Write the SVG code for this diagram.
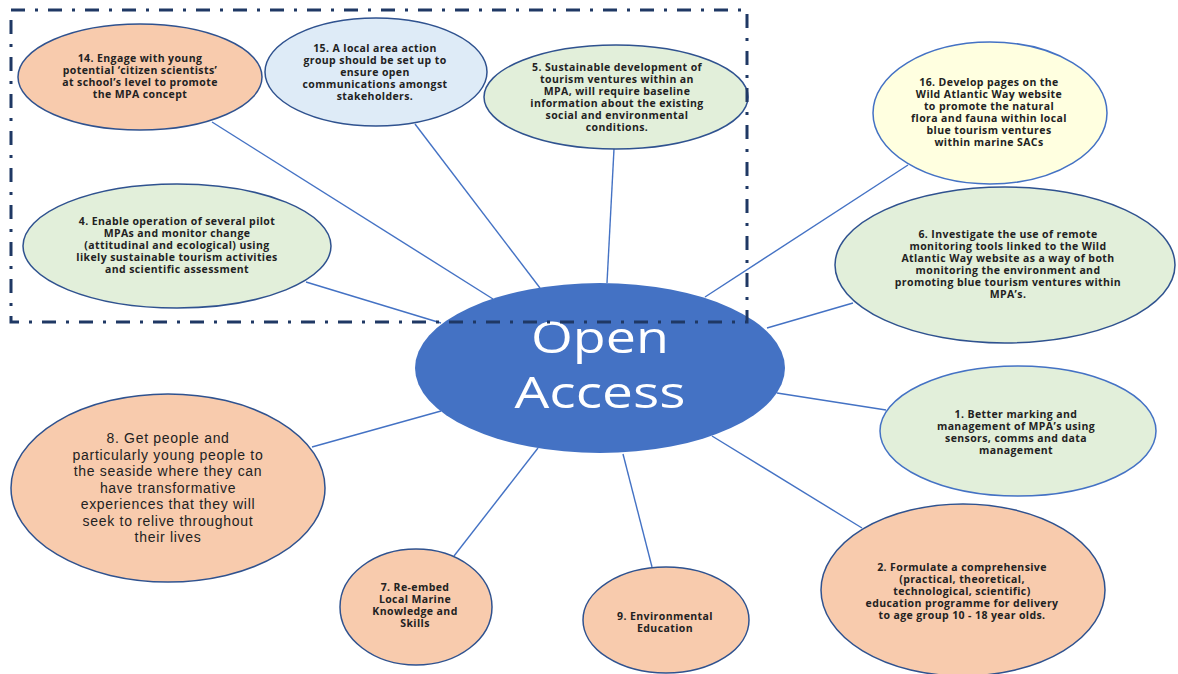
<svg xmlns="http://www.w3.org/2000/svg" width="1178" height="674" viewBox="0 0 1178 674">
<style>
.ln{stroke:#4472C4;stroke-width:1.4;fill:none}
.n{stroke:#2F528F;stroke-width:1.5}
.nl{stroke:#4472C4;stroke-width:1.5}
.or{fill:#F8CBAD}.gr{fill:#E2EFDA}.bl{fill:#DEEBF7}.ye{fill:#FFFFE0}
.t{font-family:"Open Sans","Liberation Sans",sans-serif;font-weight:700;font-size:10.5px;letter-spacing:0.4px;fill:#222;text-anchor:middle}
.t8{font-family:"Liberation Sans",Arial,sans-serif;font-weight:400;font-size:14px;letter-spacing:0.7px;fill:#222;text-anchor:middle}
.c{font-family:"Open Sans","Liberation Sans",sans-serif;font-size:44px;fill:#fff;text-anchor:middle}
.box{fill:none;stroke:#1F3864;stroke-width:3;stroke-dasharray:14 10 3 10}
</style>
<rect width="1178" height="674" fill="#fff"/>
<g id="connectors">
<line class="ln" x1="212" y1="122" x2="493" y2="299"/>
<line class="ln" x1="415" y1="124" x2="540" y2="288"/>
<line class="ln" x1="614" y1="149" x2="607" y2="283"/>
<line class="ln" x1="306" y1="282" x2="441" y2="323"/>
<line class="ln" x1="908" y1="165" x2="705" y2="297"/>
<line class="ln" x1="853" y1="303" x2="767" y2="328"/>
<line class="ln" x1="886" y1="410" x2="777" y2="393"/>
<line class="ln" x1="862" y1="528" x2="712" y2="436"/>
<line class="ln" x1="312" y1="447" x2="441" y2="411"/>
<line class="ln" x1="454" y1="556" x2="538" y2="448"/>
<line class="ln" x1="652" y1="567" x2="623" y2="454"/>
</g>
<g id="center">
<ellipse cx="600" cy="368" rx="185" ry="85" fill="#4472C4"/>
<text class="c" x="600" y="353" textLength="138" lengthAdjust="spacingAndGlyphs">Open</text>
<text class="c" x="600" y="408" textLength="171" lengthAdjust="spacingAndGlyphs">Access</text>
</g>
<g id="n14">
<ellipse class="n or" cx="140" cy="77" rx="122" ry="53"/>
<text class="t" x="140" y="62">14. Engage with young</text>
<text class="t" x="140" y="74">potential ‘citizen scientists’</text>
<text class="t" x="140" y="86">at school’s level to promote</text>
<text class="t" x="140" y="98">the MPA concept</text>
</g>
<g id="n15">
<ellipse class="n bl" cx="376" cy="72" rx="111" ry="54"/>
<text class="t" x="375" y="52">15. A local area action</text>
<text class="t" x="375" y="64">group should be set up to</text>
<text class="t" x="375" y="76">ensure open</text>
<text class="t" x="375" y="88">communications amongst</text>
<text class="t" x="375" y="100">stakeholders.</text>
</g>
<g id="n5">
<ellipse class="n gr" cx="616" cy="97" rx="132" ry="52"/>
<text class="t" x="617" y="71">5. Sustainable development of</text>
<text class="t" x="617" y="83">tourism ventures within an</text>
<text class="t" x="617" y="95">MPA, will require baseline</text>
<text class="t" x="617" y="107">information about the existing</text>
<text class="t" x="617" y="119">social and environmental</text>
<text class="t" x="617" y="131">conditions.</text>
</g>
<g id="n4">
<ellipse class="n gr" cx="177" cy="246" rx="154" ry="62"/>
<text class="t" x="177" y="225">4. Enable operation of several pilot</text>
<text class="t" x="177" y="237">MPAs and monitor change</text>
<text class="t" x="177" y="249">(attitudinal and ecological) using</text>
<text class="t" x="177" y="261">likely sustainable tourism activities</text>
<text class="t" x="177" y="273">and scientific assessment</text>
</g>
<g id="n16">
<ellipse class="nl ye" cx="990" cy="113" rx="117" ry="71"/>
<text class="t" x="989" y="86">16. Develop pages on the</text>
<text class="t" x="989" y="98">Wild Atlantic Way website</text>
<text class="t" x="989" y="110">to promote the natural</text>
<text class="t" x="989" y="122">flora and fauna within local</text>
<text class="t" x="989" y="134">blue tourism ventures</text>
<text class="t" x="989" y="146">within marine SACs</text>
</g>
<g id="n6">
<ellipse class="n gr" cx="1005" cy="265" rx="170" ry="78"/>
<text class="t" x="1008" y="238">6. Investigate the use of remote</text>
<text class="t" x="1008" y="250">monitoring tools linked to the Wild</text>
<text class="t" x="1008" y="262">Atlantic Way website as a way of both</text>
<text class="t" x="1008" y="274">monitoring the environment and</text>
<text class="t" x="1008" y="286">promoting blue tourism ventures within</text>
<text class="t" x="1008" y="298">MPA’s.</text>
</g>
<g id="n1">
<ellipse class="nl gr" cx="1018" cy="431" rx="138" ry="65"/>
<text class="t" x="1016" y="418">1. Better marking and</text>
<text class="t" x="1016" y="430">management of MPA’s using</text>
<text class="t" x="1016" y="442">sensors, comms and data</text>
<text class="t" x="1016" y="454">management</text>
</g>
<g id="n2">
<ellipse class="n or" cx="963" cy="590" rx="142" ry="86"/>
<text class="t" x="962" y="571">2. Formulate a comprehensive</text>
<text class="t" x="962" y="583">(practical, theoretical,</text>
<text class="t" x="962" y="595">technological, scientific)</text>
<text class="t" x="962" y="607">education programme for delivery</text>
<text class="t" x="962" y="619">to age group 10 - 18 year olds.</text>
</g>
<g id="n8">
<ellipse class="n or" cx="168" cy="488" rx="157" ry="94"/>
<text class="t8" x="168" y="443">8. Get people and</text>
<text class="t8" x="168" y="459.5">particularly young people to</text>
<text class="t8" x="168" y="476">the seaside where they can</text>
<text class="t8" x="168" y="492.5">have transformative</text>
<text class="t8" x="168" y="509">experiences that they will</text>
<text class="t8" x="168" y="525.5">seek to relive throughout</text>
<text class="t8" x="168" y="542">their lives</text>
</g>
<g id="n7">
<ellipse class="n or" cx="416" cy="607" rx="76" ry="58"/>
<text class="t" x="415" y="591">7. Re-embed</text>
<text class="t" x="415" y="603">Local Marine</text>
<text class="t" x="415" y="615">Knowledge and</text>
<text class="t" x="415" y="627">Skills</text>
</g>
<g id="n9">
<ellipse class="n or" cx="666" cy="620" rx="83" ry="53"/>
<text class="t" x="665" y="620">9. Environmental</text>
<text class="t" x="665" y="632">Education</text>
</g>
<g id="group-box">
<rect class="box" x="11" y="10" width="736" height="312"/>
</g>
</svg>
